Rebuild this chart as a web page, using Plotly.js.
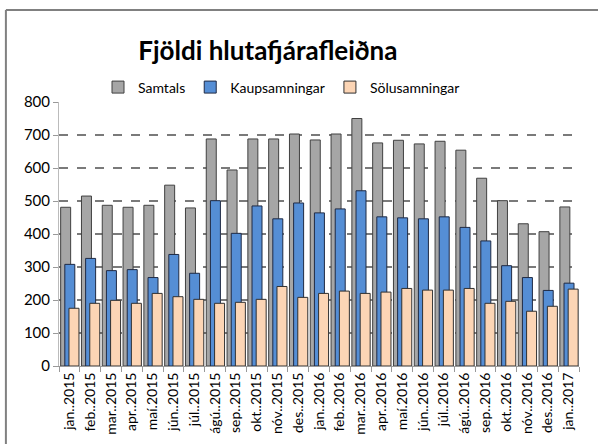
<!DOCTYPE html>
<html>
<head>
<meta charset="utf-8">
<script src="https://cdn.plot.ly/plotly-3.0.1.min.js"></script>
<style>
html,body{margin:0;padding:0;background:#fff;}
#chart{width:598px;height:444px;}
</style>
</head>
<body>
<div id="chart"></div>
<script>
const months = ["jan..2015","feb..2015","mar..2015","apr..2015","maí.2015","jún..2015","júl..2015","ágú..2015","sep..2015","okt..2015","nóv..2015","des..2015",
"jan..2016","feb..2016","mar..2016","apr..2016","maí.2016","jún..2016","júl..2016","ágú..2016","sep..2016","okt..2016","nóv..2016","des..2016","jan..2017"];
const samtals = [481,515,487,481,487,548,479,688,594,688,688,703,685,703,750,676,684,673,681,654,569,501,431,407,482];
const kaup = [308,326,289,292,268,338,281,501,402,485,446,494,464,476,531,452,449,446,452,420,379,304,268,229,251];
const solu = [175,190,199,190,220,210,202,190,193,202,241,208,220,227,220,224,235,230,230,235,190,196,166,181,233];
const seriesNames = ["Samtals","Kaupsamningar","Sölusamningar"];

const font = "Lato, 'Open Sans', sans-serif";
const traces = [
  {name: seriesNames[0], x: months, y: samtals, type: 'bar', offset: -0.42, width: 0.48,
   marker: {color: '#a6a6a6', line: {color: '#404040', width: 1}}},
  {name: seriesNames[1], x: months, y: kaup, type: 'bar', offset: -0.22, width: 0.48,
   marker: {color: '#558ed5', line: {color: '#1f2a44', width: 1}}},
  {name: seriesNames[2], x: months, y: solu, type: 'bar', offset: -0.02, width: 0.48,
   marker: {color: '#fcd5b5', line: {color: '#303030', width: 1}}}
];

const layout = {
  width: 598, height: 444,
  margin: {l: 59, r: 19, t: 102, b: 78},
  paper_bgcolor: '#fff', plot_bgcolor: '#fff',
  barmode: 'overlay',
  showlegend: true,
  font: {family: font, color: '#000'},
  title: {text: '<b>Fjöldi hlutafjárafleiðna</b>', font: {family: font, size: 26, color: '#000'},
          xref: 'container', x: 0.448, xanchor: 'center', yref: 'container', y: 0.885, yanchor: 'middle'},
  legend: {orientation: 'h', x: 0.075, xanchor: 'left', y: 1.055, yanchor: 'middle',
           font: {family: font, size: 14, color: '#000'}, traceorder: 'normal', itemwidth: 30,
           bgcolor: 'rgba(0,0,0,0)'},
  xaxis: {type: 'category', tickson: 'boundaries', ticks: 'outside', ticklen: 5, tickcolor: '#999',
          showline: true, linecolor: '#999', linewidth: 1, showgrid: false, tickangle: -90,
          tickfont: {family: font, size: 14, color: '#000'}, range: [-0.5, 24.5], fixedrange: true},
  yaxis: {range: [0, 800], dtick: 100, ticks: 'outside', ticklen: 5, tickcolor: '#999',
          showline: true, linecolor: '#bbb', linewidth: 1, showgrid: true, gridcolor: '#7a7a7a',
          griddash: 'dash', gridwidth: 1.5, zeroline: false,
          tickfont: {family: font, size: 15, color: '#000'}},
  shapes: [
    {type: 'line', xref: 'paper', yref: 'paper', x0: -53/519, x1: 540/519, y0: (444-78-10)/264, y1: (444-78-10)/264,
     line: {color: '#808080', width: 2}},
    {type: 'line', xref: 'paper', yref: 'paper', x0: -53/519, x1: -53/519, y0: (444-78-10)/264, y1: -90/264,
     line: {color: '#808080', width: 2}}
  ]
};
Plotly.newPlot('chart', traces, layout, {displayModeBar: false, staticPlot: true});
</script>
</body>
</html>
